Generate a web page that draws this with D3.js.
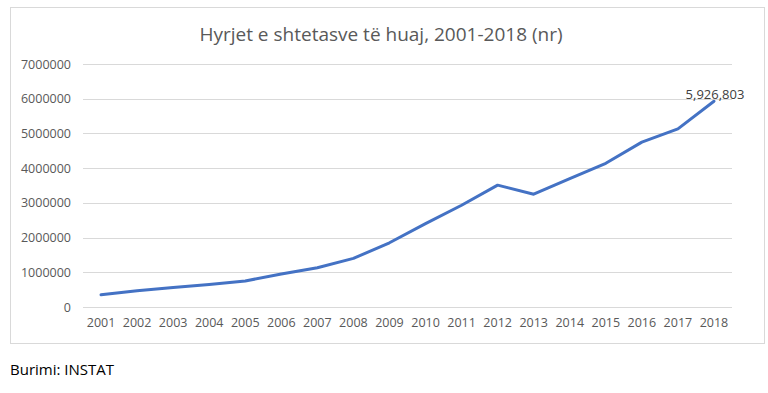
<!DOCTYPE html>
<html><head><meta charset="utf-8">
<script src="https://cdn.jsdelivr.net/npm/d3@7"></script>
<style>html,body{margin:0;padding:0;background:#fff;}</style>
</head><body>
<script>
const years = ["2001","2002","2003","2004","2005","2006","2007","2008","2009","2010","2011","2012","2013","2014","2015","2016","2017","2018"];
const entries = [350000,470000,560000,650000,750000,950000,1130000,1400000,1850000,2400000,2930000,3510000,3250000,3700000,4140000,4750000,5130000,5926803];
const yTicks = [0,1000000,2000000,3000000,4000000,5000000,6000000,7000000];
const title = "Hyrjet e shtetasve të huaj, 2001-2018 (nr)";
const source = "Burimi: INSTAT";
const lastLabel = "5,926,803";

const W = 768, H = 393;
const font = "'Open Sans', sans-serif";
const svg = d3.select("body").append("svg").attr("width", W).attr("height", H);
svg.append("rect").attr("width", W).attr("height", H).attr("fill", "#fff");
svg.append("rect").attr("x", 10.5).attr("y", 7.5).attr("width", 754).attr("height", 336)
  .attr("fill", "#fff").attr("stroke", "#d9d9d9");

const x = d3.scaleBand().domain(years).range([83, 732]);
const y = d3.scaleLinear().domain([0, 7000000]).range([307, 64]);

svg.append("g").selectAll("line").data(yTicks).join("line")
  .attr("x1", 83).attr("x2", 732)
  .attr("y1", d => Math.round(y(d)) + 0.5).attr("y2", d => Math.round(y(d)) + 0.5)
  .attr("stroke", "#d9d9d9").attr("stroke-width", 1);

const yAxis = svg.append("g").attr("transform", "translate(71,0)")
  .call(d3.axisLeft(y).tickValues(yTicks).tickFormat(d3.format("d")).tickSize(0).tickPadding(0));
yAxis.select(".domain").remove();
yAxis.selectAll("text").attr("font-family", font).attr("font-size", 12.5).attr("fill", "#595959");

const xAxis = svg.append("g").attr("transform", "translate(0,318)")
  .call(d3.axisBottom(x).tickSize(0).tickPadding(0));
xAxis.select(".domain").remove();
xAxis.selectAll("text").attr("font-family", font).attr("font-size", 12.5).attr("fill", "#595959");

const line = d3.line().x((d, i) => x(years[i]) + x.bandwidth() / 2).y(d => y(d));
svg.append("path").datum(entries).attr("d", line).attr("fill", "none")
  .attr("stroke", "#4472C4").attr("stroke-width", 3).attr("stroke-linejoin", "round").attr("stroke-linecap", "round");

svg.append("text").attr("x", x(years[years.length - 1]) + x.bandwidth() / 2 + 1).attr("y", y(entries[entries.length - 1]) - 2)
  .attr("text-anchor", "middle").attr("font-family", font).attr("font-size", 13).attr("fill", "#404040").text(lastLabel);

svg.append("text").attr("x", 381).attr("y", 41).attr("text-anchor", "middle")
  .attr("font-family", font).attr("font-size", 19).attr("fill", "#595959").text(title);

svg.append("text").attr("x", 10).attr("y", 375).attr("font-family", font).attr("font-size", 15)
  .attr("fill", "#000").text(source);
</script>
</body></html>
